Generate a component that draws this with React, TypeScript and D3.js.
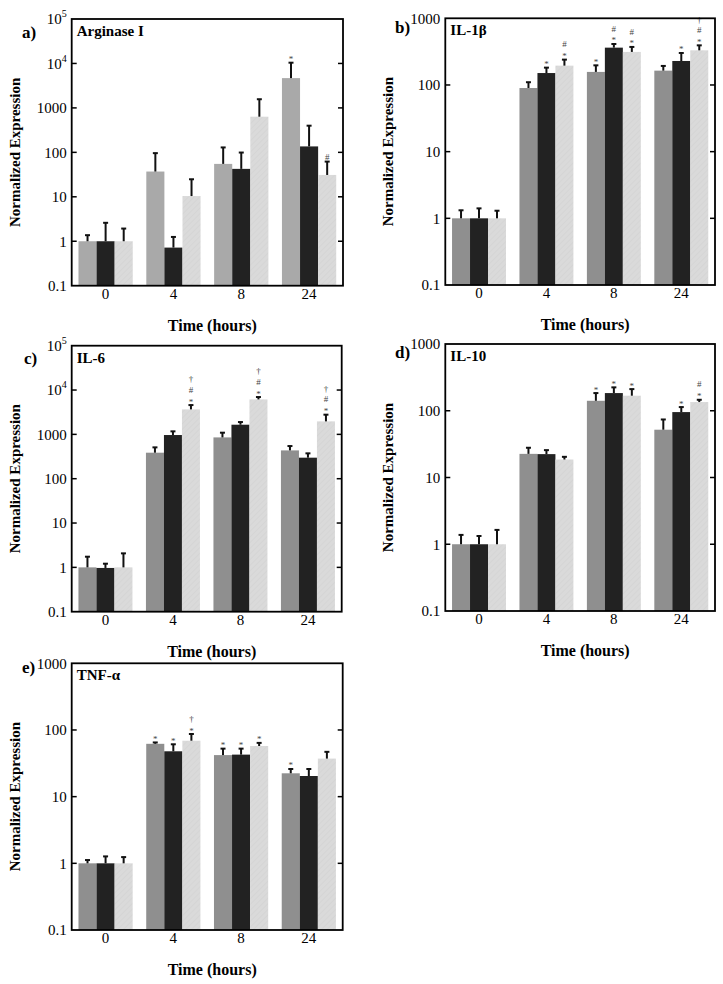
import React from 'react';
import * as d3 from 'd3';

const timeLabels = ['0', '4', '8', '24'];

// Arginase I
const argMeans = [[1, 37, 55, 4680], [1, 0.72, 42.5, 136], [1, 10.4, 634, 31]];
const argErrTops = [[1.37, 96, 129, 10400], [2.6, 1.25, 99, 398], [1.93, 24.8, 1567, 62]];
const argMarks = [['', '', '', '*'], ['', '', '', ''], ['', '', '', '#']];

// IL-1β
const il1Means = [[1, 90, 157, 164], [1, 151, 363, 229], [1, 195, 313, 331]];
const il1ErrTops = [[1.32, 110, 197, 193], [1.41, 182, 412, 302], [1.3, 240, 372, 393]];
const il1Marks = [['', '', '*', ''], ['', '*', '*#', '*'], ['', '*#', '*#', '*#†']];

// IL-6
const il6Means = [[1, 386, 854, 435], [0.97, 966, 1652, 298], [1, 3660, 6150, 1963]];
const il6ErrTops = [[1.74, 509, 1091, 545], [1.21, 1169, 1896, 373], [2.07, 4580, 6950, 2780]];
const il6Marks = [['', '', '', ''], ['', '', '', ''], ['', '*#†', '*#†', '*#†']];

// IL-10
const il10Means = [[1, 22.6, 141, 52], [1, 22.4, 184, 95.5], [1, 18.6, 168, 135]];
const il10ErrTops = [[1.38, 27.9, 184, 74], [1.33, 25.7, 224, 113.5], [1.64, 20.4, 211, 146]];
const il10Marks = [['', '', '*', ''], ['', '', '*', '*'], ['', '', '*', '*#']];

// TNF-α
const tnfMeans = [[1, 62, 42, 22.4], [1, 47.9, 42.7, 20.4], [1, 69, 57.5, 37.2]];
const tnfErrTops = [[1.12, 65, 52.5, 26], [1.27, 61, 52.5, 26], [1.24, 87, 64, 47]];
const tnfMarks = [['', '*', '*', '*'], ['', '*', '*', ''], ['', '*†', '*', '']];

const ticksBig = [0.1, 1, 10, 100, 1000, 1e4, 1e5];
const ticksSmall = [0.1, 1, 10, 100, 1000];

const FONT = '"Liberation Serif", "Times New Roman", Times, serif';

type Panel = {
  letter: string; title: string; means: number[][]; errs: number[][]; marks: string[][];
  x0: number; x1: number; y0: number; y1: number; max: number; ticks: number[];
  letterX: number; letterDy: number; s1Color: string;
};

const panels: Panel[] = [
  { letter: 'a)', title: 'Arginase I', means: argMeans, errs: argErrTops, marks: argMarks,
    x0: 71.7, x1: 343, y0: 19, y1: 285.7, max: 1e5, ticks: ticksBig, letterX: 22, letterDy: 19, s1Color: '#a9a9a9' },
  { letter: 'b)', title: 'IL-1β', means: il1Means, errs: il1ErrTops, marks: il1Marks,
    x0: 445.3, x1: 715, y0: 18.3, y1: 285, max: 1000, ticks: ticksSmall, letterX: 395, letterDy: 15, s1Color: '#8f8f8f' },
  { letter: 'c)', title: 'IL-6', means: il6Means, errs: il6ErrTops, marks: il6Marks,
    x0: 71.7, x1: 341.7, y0: 345.7, y1: 611.7, max: 1e5, ticks: ticksBig, letterX: 24, letterDy: 18, s1Color: '#8f8f8f' },
  { letter: 'd)', title: 'IL-10', means: il10Means, errs: il10ErrTops, marks: il10Marks,
    x0: 445.3, x1: 715, y0: 344, y1: 611, max: 1000, ticks: ticksSmall, letterX: 395, letterDy: 14, s1Color: '#8f8f8f' },
  { letter: 'e)', title: 'TNF-α', means: tnfMeans, errs: tnfErrTops, marks: tnfMarks,
    x0: 71.7, x1: 342.7, y0: 663.3, y1: 930, max: 1000, ticks: ticksSmall, letterX: 22, letterDy: 10, s1Color: '#8f8f8f' },
];

const seriesIdx = [0, 1, 2];
const markOffset: Record<string, number> = { '*': 4.5, '#': 3.2, '†': 3.2 };

function tickLabel(t: number) {
  if (t >= 1e4) {
    const e = Math.round(Math.log10(t));
    return (
      <>
        10<tspan fontSize={10} dy={-7}>{e}</tspan>
      </>
    );
  }
  return d3.format('~g')(t);
}

function PanelView({ p }: { p: Panel }) {
  const y = d3.scaleLog().domain([0.1, p.max]).range([p.y1, p.y0]);
  const x = d3.scaleBand<string>().domain(timeLabels).range([p.x0, p.x1]).paddingInner(0.2).paddingOuter(0.1);
  const xs = d3.scaleBand<number>().domain(seriesIdx).range([0, x.bandwidth()]);
  const fills = [p.s1Color, '#222222', 'url(#hatch)'];
  const cx = (p.x0 + p.x1) / 2;
  const cy = (p.y0 + p.y1) / 2;
  return (
    <g>
      {seriesIdx.map((s) =>
        timeLabels.map((t, i) => {
          const v = p.means[s][i];
          const bx = (x(t) as number) + (xs(s) as number);
          const bw = xs.bandwidth();
          const top = y(v);
          const et = y(p.errs[s][i]);
          const mx = bx + bw / 2;
          const mk = p.marks[s][i].split('');
          return (
            <g key={`${s}-${i}`}>
              <rect x={bx} y={top} width={bw} height={p.y1 - top} fill={fills[s]} />
              <line x1={mx} x2={mx} y1={top} y2={et} stroke="#111" strokeWidth={2} />
              <line x1={mx - 2.5} x2={mx + 2.5} y1={et} y2={et} stroke="#111" strokeWidth={2} />
              {mk.map((m, k) => (
                <text key={k} x={mx} y={et - 5 - k * 10.5 + markOffset[m]} textAnchor="middle"
                  fontSize={9} fill="#444" fontFamily={FONT}>{m}</text>
              ))}
            </g>
          );
        })
      )}
      {p.ticks.map((t) => (
        <g key={t}>
          {t > 0.1 && t < p.max && (
            <>
              <line x1={p.x0} x2={p.x0 + 5} y1={y(t)} y2={y(t)} stroke="#000" strokeWidth={1.5} />
              <line x1={p.x1 - 5} x2={p.x1} y1={y(t)} y2={y(t)} stroke="#000" strokeWidth={1.5} />
            </>
          )}
          <text x={p.x0 - 5} y={y(t)} dy="0.35em" textAnchor="end" fontSize={15} fontFamily={FONT}>
            {tickLabel(t)}
          </text>
        </g>
      ))}
      {timeLabels.map((t) => (
        <text key={t} x={(x(t) as number) + x.bandwidth() / 2} y={p.y1 + 13} textAnchor="middle"
          fontSize={15} fontFamily={FONT}>{t}</text>
      ))}
      <rect x={p.x0} y={p.y0} width={p.x1 - p.x0} height={p.y1 - p.y0} fill="none" stroke="#000" strokeWidth={1.8} />
      <text x={p.x0 + 5} y={p.y0 + 17} fontSize={15} fontWeight="bold" fontFamily={FONT}>{p.title}</text>
      <text x={p.letterX} y={p.y0 + p.letterDy} fontSize={17} fontWeight="bold" fontFamily={FONT}>{p.letter}</text>
      <text x={cx + 5} y={p.y1 + 45} textAnchor="middle" fontSize={16} fontWeight="bold" fontFamily={FONT}>Time (hours)</text>
      <text transform={`translate(${p.x0 - 52},${cy}) rotate(-90)`} textAnchor="middle" fontSize={15}
        fontWeight="bold" fontFamily={FONT}>Normalized Expression</text>
    </g>
  );
}

export default function App() {
  return (
    <svg width={723} height={984} style={{ position: 'absolute', left: 0, top: 0, background: '#fff' }}>
      <defs>
        <pattern id="hatch" patternUnits="userSpaceOnUse" width={4} height={4} patternTransform="rotate(45)">
          <rect width={4} height={4} fill="#dadada" />
          <line x1={0} y1={0} x2={0} y2={4} stroke="#d2d2d2" strokeWidth={1.2} />
        </pattern>
      </defs>
      <rect width={723} height={984} fill="#fff" />
      {panels.map((p) => <PanelView key={p.letter} p={p} />)}
    </svg>
  );
}
